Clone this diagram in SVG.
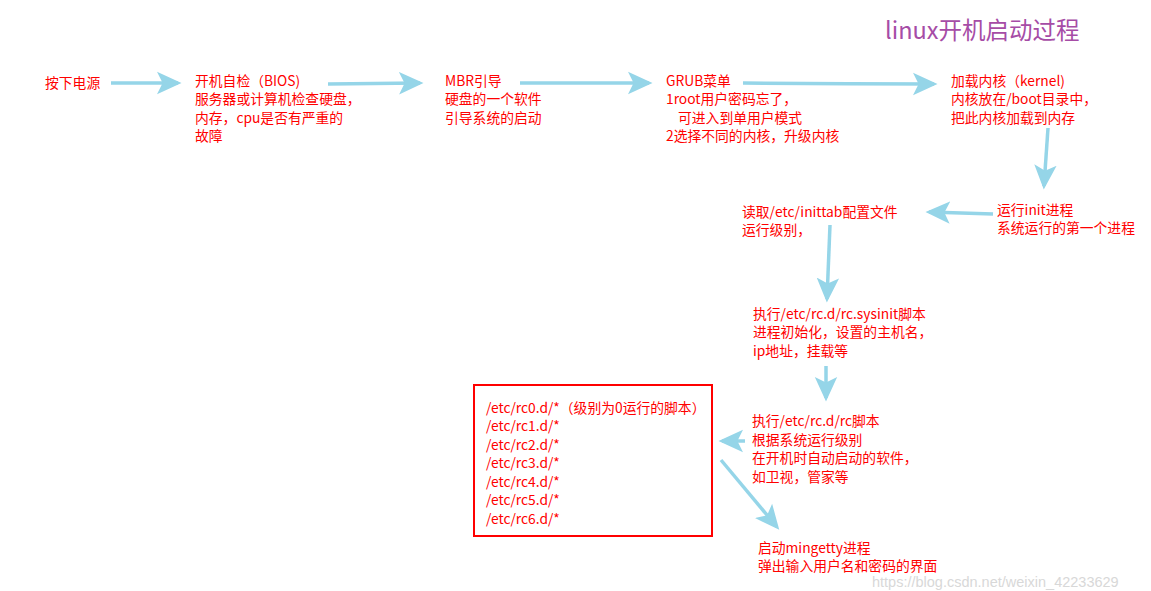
<svg xmlns="http://www.w3.org/2000/svg" width="1151" height="591" viewBox="0 0 1151 591">
<style>
text{font-family:"Noto Sans CJK SC","Noto Sans",sans-serif;font-size:13.8px;fill:#ff0000}
.title{font-size:23.5px;fill:#a64ca6}
.wm{font-size:14.5px;fill:#d8d8d8;font-family:"Liberation Sans","Noto Sans",sans-serif}
.c{stroke:#95d5e8;stroke-width:3.5;fill:none;marker-end:url(#ah)}
</style>
<defs>
<marker id="ah" markerWidth="8" markerHeight="8" refX="6" refY="4" orient="auto" markerUnits="strokeWidth" viewBox="0 0 8 8">
<path d="M0,0.8 L7,4 L0,7.2 L1.6,4 Z" fill="#95d5e8"/>
</marker>
</defs>
<rect width="1151" height="591" fill="#fff"/>
<text class="title" x="885" y="39">linux开机启动过程</text>
<g id="connectors">
<line class="c" x1="111" y1="83" x2="178" y2="83"/>
<line class="c" x1="328" y1="84" x2="420" y2="83"/>
<line class="c" x1="520" y1="83" x2="649" y2="83"/>
<path class="c" d="M743,83 Q840,84 934,84"/>
<line class="c" x1="1048" y1="128" x2="1044" y2="186"/>
<line class="c" x1="993" y1="214" x2="929" y2="212"/>
<line class="c" x1="830" y1="225" x2="827" y2="299"/>
<line class="c" x1="826" y1="366" x2="826" y2="398"/>
<line class="c" x1="745" y1="441" x2="722" y2="441"/>
<line class="c" x1="721" y1="460" x2="777" y2="527"/>
</g>
<g id="n1"><text x="45" y="88">按下电源</text></g>
<g id="n2">
<text x="195" y="86">开机自检（BIOS)</text>
<text x="195" y="104">服务器或计算机检查硬盘，</text>
<text x="195" y="123">内存，cpu是否有严重的</text>
<text x="195" y="141">故障</text>
</g>
<g id="n3">
<text x="445" y="86">MBR引导</text>
<text x="445" y="104">硬盘的一个软件</text>
<text x="445" y="123">引导系统的启动</text>
</g>
<g id="n4">
<text x="666" y="86">GRUB菜单</text>
<text x="666" y="104">1root用户密码忘了，</text>
<text x="678" y="123">可进入到单用户模式</text>
<text x="666" y="141">2选择不同的内核，升级内核</text>
</g>
<g id="n5">
<text x="951" y="86">加载内核（kernel)</text>
<text x="951" y="104">内核放在/boot目录中，</text>
<text x="951" y="123">把此内核加载到内存</text>
</g>
<g id="n6">
<text x="997" y="215">运行init进程</text>
<text x="997" y="233">系统运行的第一个进程</text>
</g>
<g id="n7">
<text x="742" y="217">读取/etc/inittab配置文件</text>
<text x="742" y="235">运行级别，</text>
</g>
<g id="n8">
<text x="753" y="319">执行/etc/rc.d/rc.sysinit脚本</text>
<text x="753" y="337">进程初始化，设置的主机名，</text>
<text x="753" y="356">ip地址，挂载等</text>
</g>
<g id="n9">
<text x="752" y="426">执行/etc/rc.d/rc脚本</text>
<text x="752" y="445">根据系统运行级别</text>
<text x="752" y="463">在开机时自动启动的软件，</text>
<text x="752" y="482">如卫视，管家等</text>
</g>
<g id="n10">
<rect x="474" y="385" width="238" height="151" fill="none" stroke="#ff0000" stroke-width="2"/>
<text x="486" y="413">/etc/rc0.d/*（级别为0运行的脚本）</text>
<text x="486" y="431">/etc/rc1.d/*</text>
<text x="486" y="450">/etc/rc2.d/*</text>
<text x="486" y="468">/etc/rc3.d/*</text>
<text x="486" y="487">/etc/rc4.d/*</text>
<text x="486" y="505">/etc/rc5.d/*</text>
<text x="486" y="524">/etc/rc6.d/*</text>
</g>
<g id="n11">
<text x="758" y="553">启动mingetty进程</text>
<text x="758" y="571">弹出输入用户名和密码的界面</text>
</g>
<text class="wm" x="872" y="587">https://blog.csdn.net/weixin_42233629</text>
</svg>
